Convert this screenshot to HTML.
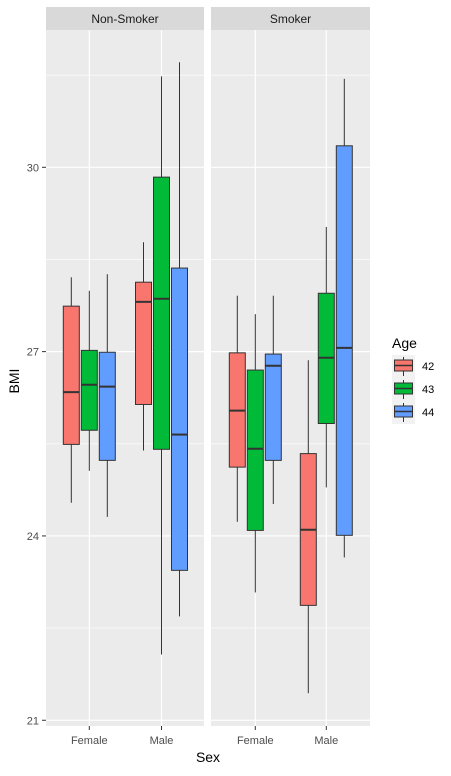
<!DOCTYPE html>
<html><head><meta charset="utf-8"><style>
body{margin:0;background:#fff;width:451px;height:771px;overflow:hidden}
text{font-family:"Liberation Sans",sans-serif}
</style></head><body>
<svg id="chart" width="451" height="771" xmlns="http://www.w3.org/2000/svg"></svg>
<script>
const panels = ["Non-Smoker","Smoker"];
const sexes = ["Female","Male"];
const ages = ["42","43","44"];
const colors = ["#F8766D","#00BA38","#619CFF"];
const yTicks = [21,24,27,30];
// [age] = [low, q1, median, q3, high]
const statsNonSmokerFemale = [[24.54,25.49,26.34,27.74,28.21],[25.06,25.72,26.46,27.02,27.99],[24.31,25.23,26.43,26.99,28.26]];
const statsNonSmokerMale = [[25.39,26.14,27.81,28.13,28.78],[22.07,25.41,27.86,29.84,31.48],[22.69,23.44,25.65,28.36,31.71]];
const statsSmokerFemale = [[24.23,25.12,26.04,26.98,27.91],[23.08,24.09,25.42,26.70,27.61],[24.52,25.23,26.77,26.96,27.91]];
const statsSmokerMale = [[21.44,22.87,24.10,25.34,26.86],[24.79,25.83,26.90,27.95,29.03],[23.65,24.01,27.06,30.35,31.44]];
const stats = [[statsNonSmokerFemale,statsNonSmokerMale],[statsSmokerFemale,statsSmokerMale]];

const NS="http://www.w3.org/2000/svg";
const svg=document.getElementById('chart');
function el(tag,attrs,parent,txt){const e=document.createElementNS(NS,tag);for(const k in attrs)e.setAttribute(k,attrs[k]);if(txt!==undefined)e.textContent=txt;(parent||svg).appendChild(e);return e;}
const plotTop=30,plotBottom=726;
function y(v){return 167.3+(30-v)*61.44;}
const panelX=[[46,204],[211,370]];
const catX=[[89.3,161.5],[255.3,326.3]];

panels.forEach((p,pi)=>{
  const [x0,x1]=panelX[pi];
  const g=el('g',{});
  
  
  el('rect',{x:x0,y:plotTop,width:x1-x0,height:plotBottom-plotTop,fill:'#EBEBEB'},g);
  el('rect',{x:x0,y:7,width:x1-x0,height:23,fill:'#D9D9D9'},g);
  const st=el('text',{x:(x0+x1)/2,y:23,'font-size':12,fill:'#1A1A1A','text-anchor':'middle'},g,p);
  
  
  [22.5,25.5,28.5,31.5].forEach(v=>el('line',{x1:x0,x2:x1,y1:y(v),y2:y(v),stroke:'#fff','stroke-width':0.6},g));
  yTicks.forEach(v=>el('line',{x1:x0,x2:x1,y1:y(v),y2:y(v),stroke:'#fff','stroke-width':1.2},g));
  sexes.forEach((sx,si)=>{
    const cx=catX[pi][si];
    el('line',{x1:cx,x2:cx,y1:plotTop,y2:plotBottom,stroke:'#fff','stroke-width':1.2},g);
    el('line',{x1:cx,x2:cx,y1:plotBottom,y2:plotBottom+4,stroke:'#333','stroke-width':1},g);
    const tl=el('text',{x:cx,y:744,'font-size':11,fill:'#4D4D4D','text-anchor':'middle'},g,sx);
    
    
    ages.forEach((a,ai)=>{
      const d=stats[pi][si][ai];
      const bx=cx+(ai-1)*18;
      const bg=el('g',{},g);
      
      
      el('line',{x1:bx,x2:bx,y1:y(d[4]),y2:y(d[3]),stroke:'#333','stroke-width':1},bg);
      el('line',{x1:bx,x2:bx,y1:y(d[1]),y2:y(d[0]),stroke:'#333','stroke-width':1},bg);
      el('rect',{x:bx-8,y:y(d[3]),width:16,height:y(d[1])-y(d[3]),fill:colors[ai],stroke:'#333','stroke-width':1},bg);
      el('line',{x1:bx-8,x2:bx+8,y1:y(d[2]),y2:y(d[2]),stroke:'#333','stroke-width':2},bg);
    });
  });
});
yTicks.forEach(v=>{
  el('line',{x1:42,x2:46,y1:y(v),y2:y(v),stroke:'#333','stroke-width':1});
  const t=el('text',{x:39,y:y(v)+4,'font-size':11,fill:'#4D4D4D','text-anchor':'end'},svg,String(v));
  
  
});
const yt=el('text',{x:19,y:381,'font-size':14,fill:'#000','text-anchor':'middle',transform:'rotate(-90 19 381)'},svg,'BMI');


const xt=el('text',{x:208,y:762,'font-size':14,fill:'#000','text-anchor':'middle'},svg,'Sex');


const lg=el('g',{});


el('text',{x:392,y:348,'font-size':14,fill:'#000'},lg,'Age');
ages.forEach((a,ai)=>{
  const ky=355+ai*23;
  const e=el('g',{},lg);
  
  
  el('rect',{x:392,y:ky,width:23,height:23,fill:'#F2F2F2'},e);
  el('line',{x1:403.5,x2:403.5,y1:ky+2,y2:ky+21,stroke:'#333'},e);
  el('rect',{x:394.5,y:ky+5,width:18,height:11,fill:colors[ai],stroke:'#333'},e);
  el('line',{x1:394.5,x2:412.5,y1:ky+10.5,y2:ky+10.5,stroke:'#333','stroke-width':1.5},e);
  el('text',{x:422,y:ky+15,'font-size':11,fill:'#000'},e,a);
});
</script>
</body></html>
